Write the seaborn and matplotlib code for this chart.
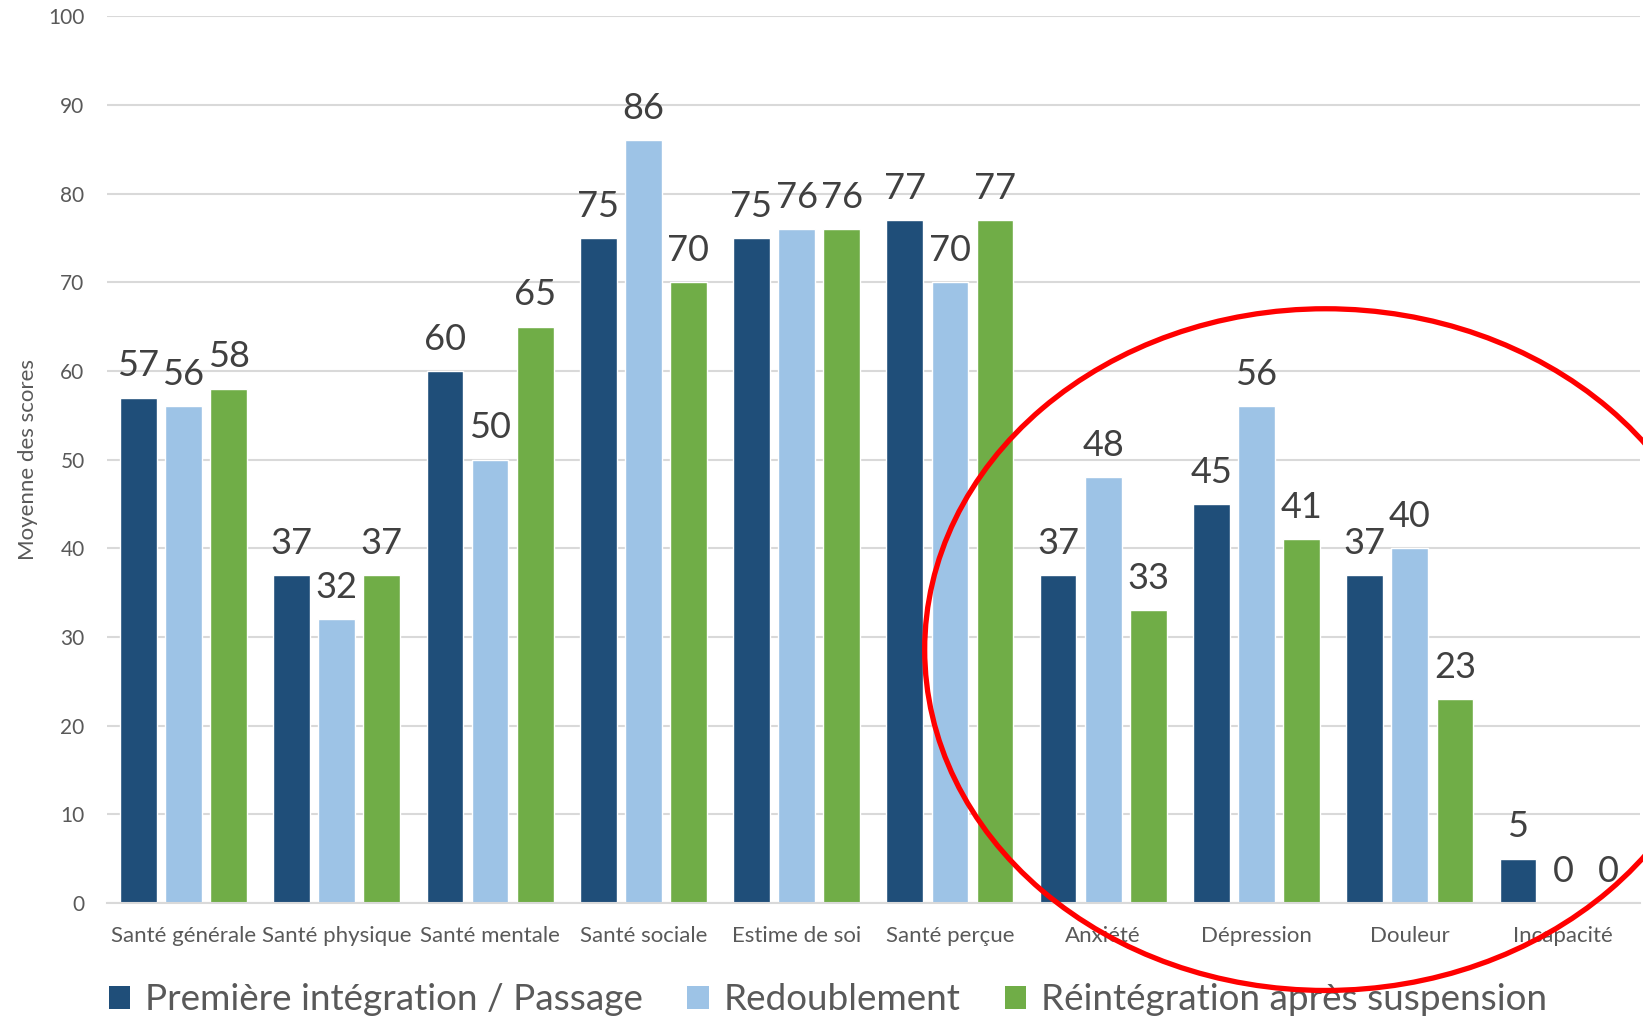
import matplotlib
matplotlib.use("Agg")
import matplotlib.pyplot as plt
import seaborn as sns
import pandas as pd
from matplotlib.patches import Ellipse, Patch

categories = ["Santé générale", "Santé physique", "Santé mentale", "Santé sociale",
              "Estime de soi", "Santé perçue", "Anxiété", "Dépression", "Douleur", "Incapacité"]
series_names = ["Première intégration / Passage", "Redoublement", "Réintégration après suspension"]
premiere = [57, 37, 60, 75, 75, 77, 37, 45, 37, 5]
redoublement = [56, 32, 50, 86, 76, 70, 48, 56, 40, 0]
reintegration = [58, 37, 65, 70, 76, 77, 33, 41, 23, 0]
yticks = [0, 10, 20, 30, 40, 50, 60, 70, 80, 90, 100]

colors = ["#1F4E79", "#9DC3E6", "#70AD47"]

rows = []
for name, vals in zip(series_names, [premiere, redoublement, reintegration]):
    for c, v in zip(categories, vals):
        rows.append({"cat": c, "serie": name, "val": v})
df = pd.DataFrame(rows)

sns.set_theme(style="white")
plt.rcParams['font.family'] = ['Lato', 'DejaVu Sans']

fig = plt.figure(figsize=(16.43, 10.19), dpi=100)
ax = fig.add_axes([0.065, 0.114, 0.933, 0.870])

sns.barplot(data=df, x="cat", y="val", hue="serie", order=categories,
            hue_order=series_names, palette=colors, width=0.883, gap=0.186,
            saturation=1, ax=ax, legend=False, errorbar=None)

for cont in ax.containers:
    ax.bar_label(cont, fmt="%d", padding=11, fontsize=26, color="#404040")

ax.set_ylim(0, 100)
ax.set_xlim(-0.5, 9.5)
ax.set_yticks(yticks)
ax.yaxis.grid(True, color="#D9D9D9", linewidth=1.5)
ax.set_axisbelow(True)
for s in ["top", "right", "left"]:
    ax.spines[s].set_visible(False)
ax.spines["bottom"].set_color("#D9D9D9")
ax.spines["bottom"].set_linewidth(1.5)
ax.tick_params(axis="y", length=0, pad=16, labelsize=15, labelcolor="#595959")
ax.tick_params(axis="x", length=0, pad=17, labelsize=16, labelcolor="#595959")
ax.set_xlabel("")
ax.set_ylabel("Moyenne des scores", fontsize=16, color="#595959")
ax.yaxis.set_label_coords(-0.0446, 0.5)

handles = [Patch(facecolor=c, edgecolor="none") for c in colors]
fig.legend(handles, series_names, loc="center", bbox_to_anchor=(0.504, 0.019),
           ncol=3, frameon=False, fontsize=26.6, labelcolor="#595959",
           handlelength=0.58, handleheight=0.58, handletextpad=0.4, columnspacing=1.2)

ell = Ellipse((0.8068, 0.3625), width=0.488, height=0.669, transform=fig.transFigure,
              fill=False, edgecolor="#FF0000", linewidth=3.8, zorder=10)
fig.patches.append(ell)

fig.savefig("out.png", dpi=100)
